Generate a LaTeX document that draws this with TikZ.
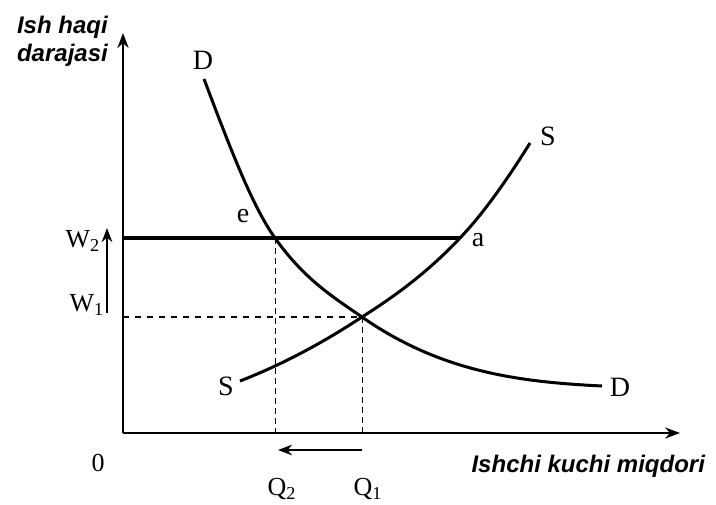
\documentclass[tikz,border=0pt]{standalone}
\usepackage{fontspec}
\setmainfont{Liberation Serif}
\newfontfamily\axisfont{Liberation Sans}
\usetikzlibrary{arrows.meta,calc,positioning}

\begin{document}
\begin{tikzpicture}[x=0.5pt,y=-0.5pt,>=Stealth,
  axlabel/.style={font=\axisfont\bfseries\itshape\fontsize{12}{14}\selectfont},
  curvelbl/.style={font=\fontsize{14}{16}\selectfont},
  vallbl/.style={font=\fontsize{13}{15}\selectfont},
  curve/.style={line width=1.5pt}]
\useasboundingbox (0,0) rectangle (716,504);
\coordinate (O) at (123,433);
\coordinate (Ytop) at (123,33);
\coordinate (Xend) at (680,433);
\coordinate (W2) at (123,238);
\coordinate (W1) at (123,317);
\coordinate (E) at (275,238);
\coordinate (M) at (362,317);
\coordinate (A) at (460,238);
\coordinate (Q2) at (275,433);
\coordinate (Q1) at (362,433);
\coordinate (Dtop) at (204,79);
\coordinate (Dend) at (602,386);
\coordinate (Sbot) at (240,381);
\coordinate (Stop) at (530,143);
\draw[->,line width=1pt] (O)--(Ytop);
\draw[->,line width=1pt] (O)--(Xend);
\draw[line width=2pt] (W2)--(A);
\draw[dashed,line width=0.6pt] (W1)--(M);
\draw[densely dashed,line width=0.5pt] (E)--(Q2);
\draw[densely dashed,line width=0.5pt] (M)--(Q1);
% demand
\draw[curve] (Dtop) .. controls (229,145) and (252,206) .. (E)
  .. controls (304,279) and (333,297) .. (M)
  .. controls (442,373) and (522,382) .. (Dend);
% supply
\draw[curve] (Sbot) .. controls (281,365) and (321,344) .. (M)
  .. controls (395,296) and (427,273) .. (A)
  .. controls (483,214) and (507,180) .. (Stop);
\draw[->,line width=0.9pt] ($(W1)+(-16,-4)$)--($(W2)+(-16,-10)$);
\draw[->,line width=0.9pt] ($(Q1)+(0,17)$)--($(Q2)+(3,17)$);
\node[axlabel,align=left,anchor=west] (ylbl) at (10,41) {Ish haqi\\darajasi};
\node[axlabel,anchor=east] (xlbl) at (712,466) {Ishchi kuchi miqdori};
\node[vallbl] (zero) at (98,463) {0};
\node[vallbl] (lq2) at (282,489) {Q\textsubscript{2}};
\node[vallbl] (lq1) at (368,489) {Q\textsubscript{1}};
\node[vallbl] (lw2) at (83,241) {W\textsubscript{2}};
\node[vallbl] (lw1) at (87,305) {W\textsubscript{1}};
\node[curvelbl] (ld1) at (203,60) {D};
\node[curvelbl] (ld2) at (620,387) {D};
\node[curvelbl] (ls1) at (226,386) {S};
\node[curvelbl] (ls2) at (548,136) {S};
\node[curvelbl] (le) at (243,216) {e};
\node[curvelbl] (la) at (478,240) {a};
\end{tikzpicture}
\end{document}
